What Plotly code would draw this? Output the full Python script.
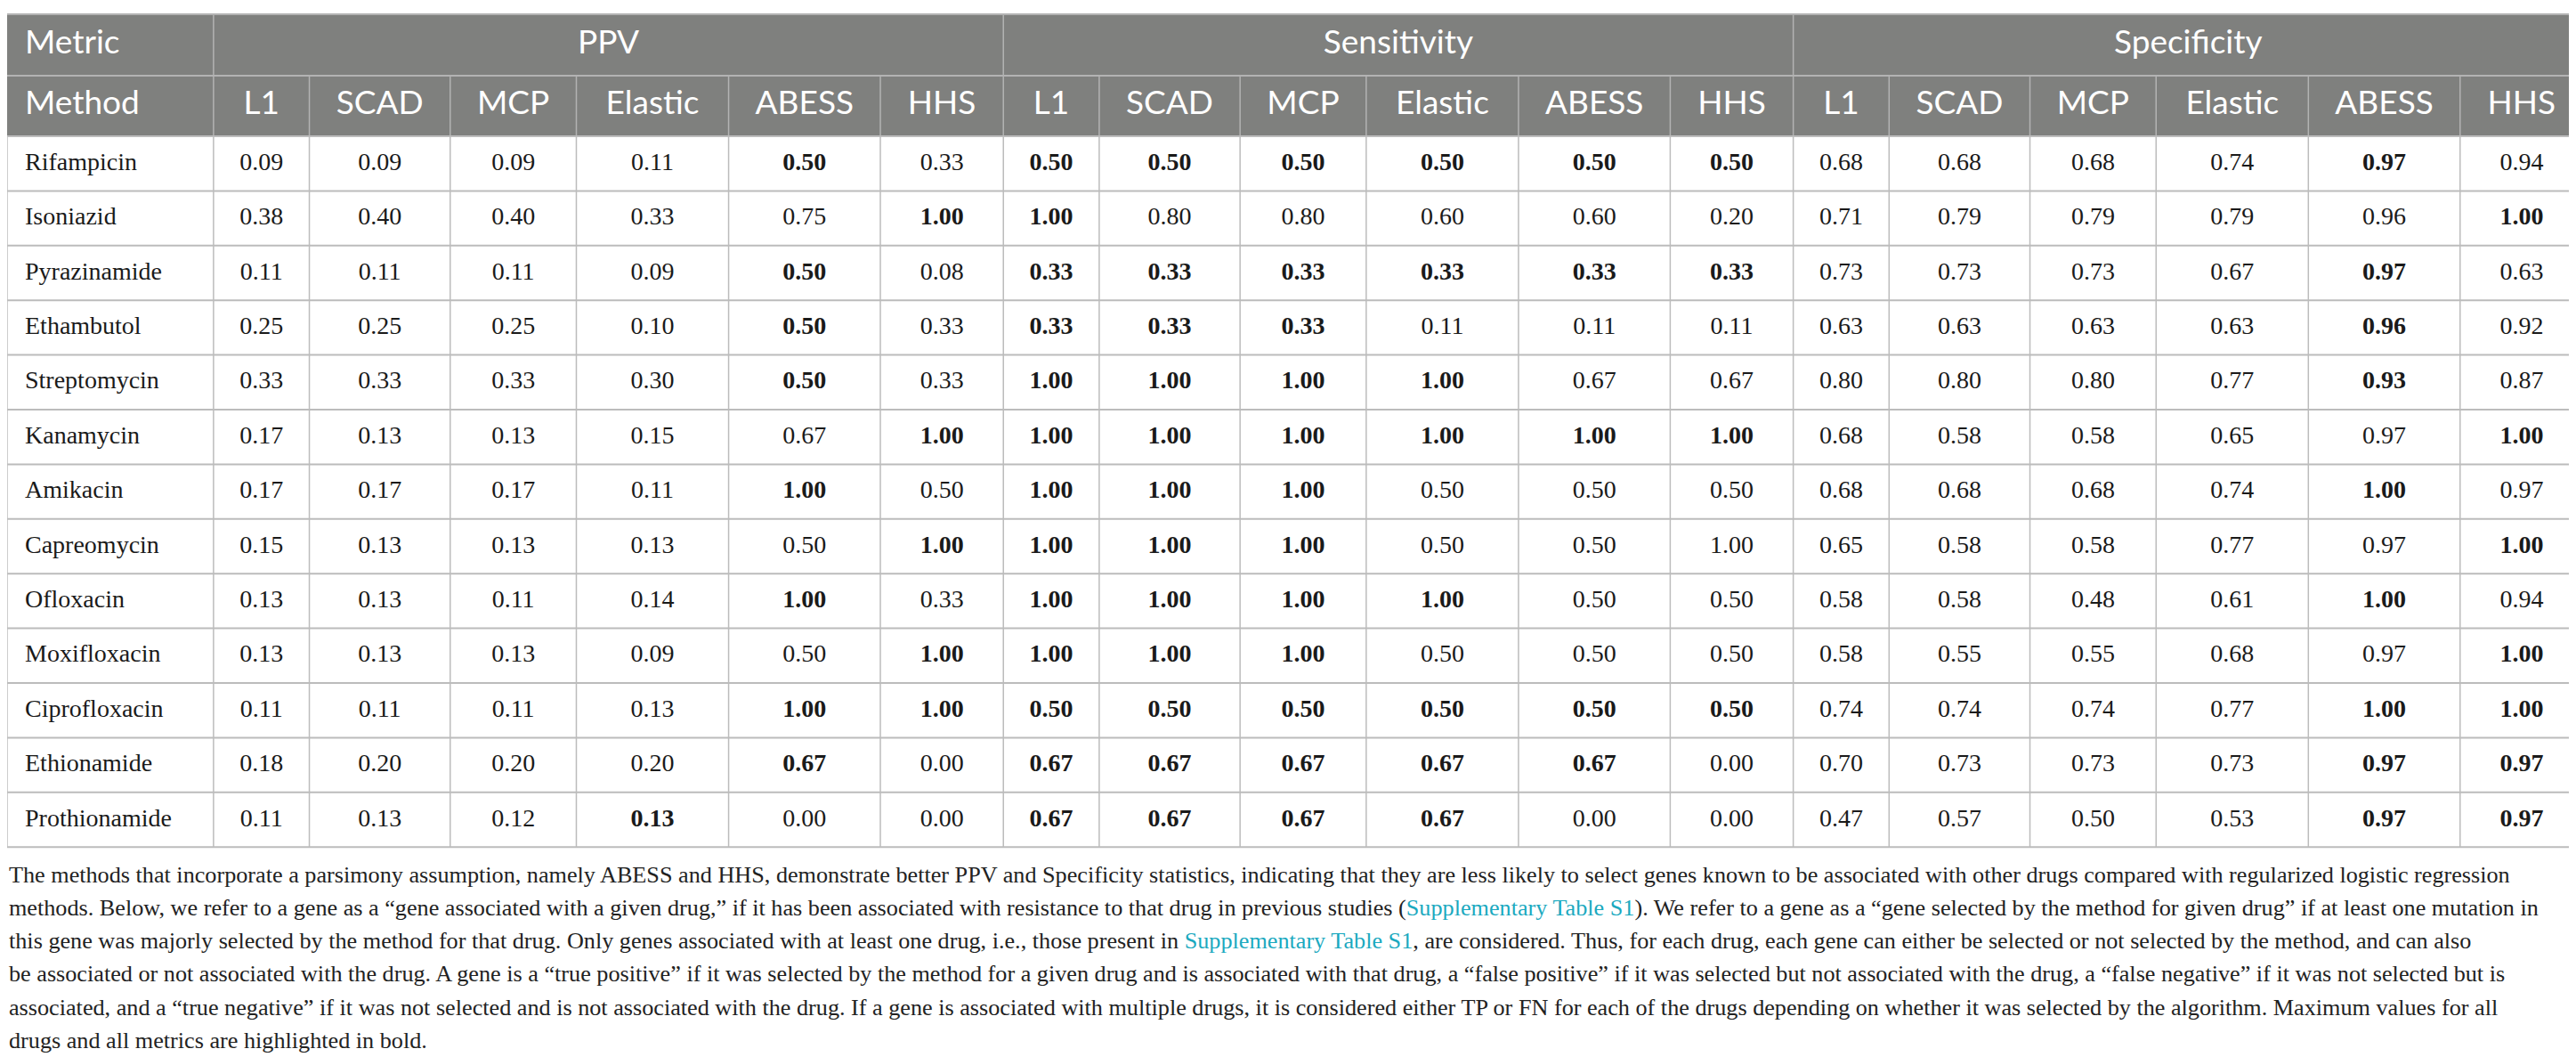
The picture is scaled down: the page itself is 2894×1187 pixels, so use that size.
import plotly.graph_objects as go

# ---- data ----
drugs = ['Rifampicin', 'Isoniazid', 'Pyrazinamide', 'Ethambutol', 'Streptomycin', 'Kanamycin',
         'Amikacin', 'Capreomycin', 'Ofloxacin', 'Moxifloxacin', 'Ciprofloxacin', 'Ethionamide',
         'Prothionamide']
methods = ['L1', 'SCAD', 'MCP', 'Elastic', 'ABESS', 'HHS']
metrics = ['PPV', 'Sensitivity', 'Specificity']

ppv = [
    [0.09, 0.09, 0.09, 0.11, 0.50, 0.33],
    [0.38, 0.40, 0.40, 0.33, 0.75, 1.00],
    [0.11, 0.11, 0.11, 0.09, 0.50, 0.08],
    [0.25, 0.25, 0.25, 0.10, 0.50, 0.33],
    [0.33, 0.33, 0.33, 0.30, 0.50, 0.33],
    [0.17, 0.13, 0.13, 0.15, 0.67, 1.00],
    [0.17, 0.17, 0.17, 0.11, 1.00, 0.50],
    [0.15, 0.13, 0.13, 0.13, 0.50, 1.00],
    [0.13, 0.13, 0.11, 0.14, 1.00, 0.33],
    [0.13, 0.13, 0.13, 0.09, 0.50, 1.00],
    [0.11, 0.11, 0.11, 0.13, 1.00, 1.00],
    [0.18, 0.20, 0.20, 0.20, 0.67, 0.00],
    [0.11, 0.13, 0.12, 0.13, 0.00, 0.00],
]
sensitivity = [
    [0.50, 0.50, 0.50, 0.50, 0.50, 0.50],
    [1.00, 0.80, 0.80, 0.60, 0.60, 0.20],
    [0.33, 0.33, 0.33, 0.33, 0.33, 0.33],
    [0.33, 0.33, 0.33, 0.11, 0.11, 0.11],
    [1.00, 1.00, 1.00, 1.00, 0.67, 0.67],
    [1.00, 1.00, 1.00, 1.00, 1.00, 1.00],
    [1.00, 1.00, 1.00, 0.50, 0.50, 0.50],
    [1.00, 1.00, 1.00, 0.50, 0.50, 1.00],
    [1.00, 1.00, 1.00, 1.00, 0.50, 0.50],
    [1.00, 1.00, 1.00, 0.50, 0.50, 0.50],
    [0.50, 0.50, 0.50, 0.50, 0.50, 0.50],
    [0.67, 0.67, 0.67, 0.67, 0.67, 0.00],
    [0.67, 0.67, 0.67, 0.67, 0.00, 0.00],
]
specificity = [
    [0.68, 0.68, 0.68, 0.74, 0.97, 0.94],
    [0.71, 0.79, 0.79, 0.79, 0.96, 1.00],
    [0.73, 0.73, 0.73, 0.67, 0.97, 0.63],
    [0.63, 0.63, 0.63, 0.63, 0.96, 0.92],
    [0.80, 0.80, 0.80, 0.77, 0.93, 0.87],
    [0.68, 0.58, 0.58, 0.65, 0.97, 1.00],
    [0.68, 0.68, 0.68, 0.74, 1.00, 0.97],
    [0.65, 0.58, 0.58, 0.77, 0.97, 1.00],
    [0.58, 0.58, 0.48, 0.61, 1.00, 0.94],
    [0.58, 0.55, 0.55, 0.68, 0.97, 1.00],
    [0.74, 0.74, 0.74, 0.77, 1.00, 1.00],
    [0.70, 0.73, 0.73, 0.73, 0.97, 0.97],
    [0.47, 0.57, 0.50, 0.53, 0.97, 0.97],
]

# cells shown in bold in the source (row -> method indexes) -- not simply the row max
bold = {
    'PPV': [[4], [5], [4], [4], [4], [5], [4], [5], [4], [5], [4, 5], [4], [3]],
    'Sensitivity': [[0, 1, 2, 3, 4, 5], [0], [0, 1, 2, 3, 4, 5], [0, 1, 2], [0, 1, 2, 3],
                    [0, 1, 2, 3, 4, 5], [0, 1, 2], [0, 1, 2], [0, 1, 2, 3], [0, 1, 2],
                    [0, 1, 2, 3, 4, 5], [0, 1, 2, 3, 4], [0, 1, 2, 3]],
    'Specificity': [[4], [5], [4], [4], [4], [5], [4], [5], [4], [5], [4, 5], [4, 5], [4, 5]],
}

caption_lines = [
    'The methods that incorporate a parsimony assumption, namely ABESS and HHS, demonstrate better PPV and Specificity statistics, indicating that they are less likely to select genes known to be associated with other drugs compared with regularized logistic regression',
    'methods. Below, we refer to a gene as a \u201cgene associated with a given drug,\u201d if it has been associated with resistance to that drug in previous studies ({link}). We refer to a gene as a \u201cgene selected by the method for given drug\u201d if at least one mutation in',
    'this gene was majorly selected by the method for that drug. Only genes associated with at least one drug, i.e., those present in {link}, are considered. Thus, for each drug, each gene can either be selected or not selected by the method, and can also',
    'be associated or not associated with the drug. A gene is a \u201ctrue positive\u201d if it was selected by the method for a given drug and is associated with that drug, a \u201cfalse positive\u201d if it was selected but not associated with the drug, a \u201cfalse negative\u201d if it was not selected but is',
    'associated, and a \u201ctrue negative\u201d if it was not selected and is not associated with the drug. If a gene is associated with multiple drugs, it is considered either TP or FN for each of the drugs depending on whether it was selected by the algorithm. Maximum values for all',
    'drugs and all metrics are highlighted in bold.',
]
link_text = 'Supplementary Table S1'

# ---- geometry (pixel units on the axes) ----
W, H = 2894, 1187
first_w = 231.5
method_w = [107.5, 158.0, 141.5, 170.8, 170.2, 138.0]
top = 8
h1, h2 = 69, 68
row_h = 61.4
table_top_body = top + h1 + h2

HEAD_BG = '#7f807e'
HEAD_LINE = '#b3b3b3'
BODY_LINE = '#bcbcbc'
LINK = '#1ba9bf'
SANS = 'Lato'
SERIF = 'Liberation Serif'

col_edges = [0, first_w]
for m in metrics:
    for w in method_w:
        col_edges.append(col_edges[-1] + w)
scale = W / col_edges[-1]
col_edges = [e * scale for e in col_edges]
col_mid = [(col_edges[i] + col_edges[i + 1]) / 2 for i in range(len(col_edges) - 1)]

row_mid = [table_top_body + row_h * (i + 0.5) for i in range(len(drugs))]
bottom = table_top_body + row_h * len(drugs)

shapes = []
# header backgrounds
shapes.append(dict(type='rect', x0=0, x1=W, y0=top, y1=table_top_body, fillcolor=HEAD_BG,
                   line=dict(width=0), layer='below'))
# top border
shapes.append(dict(type='line', x0=0, x1=W, y0=top, y1=top, line=dict(color=HEAD_LINE, width=2)))
# line between header rows
shapes.append(dict(type='line', x0=0, x1=W, y0=top + h1, y1=top + h1, line=dict(color=HEAD_LINE, width=2)))
# vertical lines in the header
group_edges = [col_edges[1], col_edges[7], col_edges[13]]
for e in group_edges:
    shapes.append(dict(type='line', x0=e, x1=e, y0=top, y1=top + h1, line=dict(color=HEAD_LINE, width=1.5)))
for e in col_edges[1:-1]:
    shapes.append(dict(type='line', x0=e, x1=e, y0=top + h1, y1=table_top_body,
                       line=dict(color=HEAD_LINE, width=1.5)))
# body grid
for i in range(len(drugs) + 1):
    y = table_top_body + row_h * i
    shapes.append(dict(type='line', x0=0, x1=W, y0=y, y1=y, line=dict(color=BODY_LINE, width=2)))
for e in col_edges:
    shapes.append(dict(type='line', x0=e, x1=e, y0=table_top_body, y1=bottom,
                       line=dict(color=BODY_LINE, width=1.5)))

fig = go.Figure()

# header row 1
fig.add_trace(go.Scatter(
    x=[col_edges[0] + 20], y=[top + h1 / 2], mode='text', text=['Metric'],
    textposition='middle right', textfont=dict(family=SANS, size=37, color='white'),
    hoverinfo='skip', showlegend=False))
fig.add_trace(go.Scatter(
    x=[(col_edges[1 + 6 * k] + col_edges[7 + 6 * k]) / 2 for k in range(3)],
    y=[top + h1 / 2] * 3, mode='text', text=metrics, textposition='middle center',
    textfont=dict(family=SANS, size=37, color='white'), hoverinfo='skip', showlegend=False))
# header row 2
fig.add_trace(go.Scatter(
    x=[col_edges[0] + 20], y=[top + h1 + h2 / 2], mode='text', text=['Method'],
    textposition='middle right', textfont=dict(family=SANS, size=37, color='white'),
    hoverinfo='skip', showlegend=False))
fig.add_trace(go.Scatter(
    x=col_mid[1:], y=[top + h1 + h2 / 2] * 18, mode='text', text=methods * 3,
    textposition='middle center', textfont=dict(family=SANS, size=37, color='white'),
    hoverinfo='skip', showlegend=False))

# drug names
fig.add_trace(go.Scatter(
    x=[col_edges[0] + 20] * len(drugs), y=row_mid, mode='text', text=drugs,
    textposition='middle right', textfont=dict(family=SERIF, size=28, color='#1a1a1a'),
    hoverinfo='skip', showlegend=False))

# values
for k, (name, vals) in enumerate(zip(metrics, [ppv, sensitivity, specificity])):
    xs, ys, txt = [], [], []
    for r, row in enumerate(vals):
        for c, v in enumerate(row):
            s = f'{v:.2f}'
            if c in bold[name][r]:
                s = '<b>' + s + '</b>'
            xs.append(col_mid[1 + 6 * k + c])
            ys.append(row_mid[r])
            txt.append(s)
    fig.add_trace(go.Scatter(
        x=xs, y=ys, mode='text', text=txt, textposition='middle center',
        textfont=dict(family=SERIF, size=28, color='#1a1a1a'),
        hoverinfo='skip', showlegend=False, name=name))

# caption
annotations = []
cap_y0 = 974
cap_dy = 37.3
link_html = f'<span style="color:{LINK}">{link_text}</span>'
for i, line in enumerate(caption_lines):
    annotations.append(dict(
        x=0, y=cap_y0 + cap_dy * i, xref='x', yref='y', xanchor='left', yanchor='middle',
        text=line.replace('{link}', link_html), showarrow=False,
        font=dict(family=SERIF, size=26.2, color='#222222')))

fig.update_layout(
    width=W, height=H,
    margin=dict(l=0, r=0, t=0, b=0),
    paper_bgcolor='white', plot_bgcolor='white',
    font=dict(family=SERIF),
    xaxis=dict(range=[0, W], visible=False, fixedrange=True),
    yaxis=dict(range=[H, 0], visible=False, fixedrange=True),
    shapes=shapes, annotations=annotations,
)

fig.write_html("out.html")
